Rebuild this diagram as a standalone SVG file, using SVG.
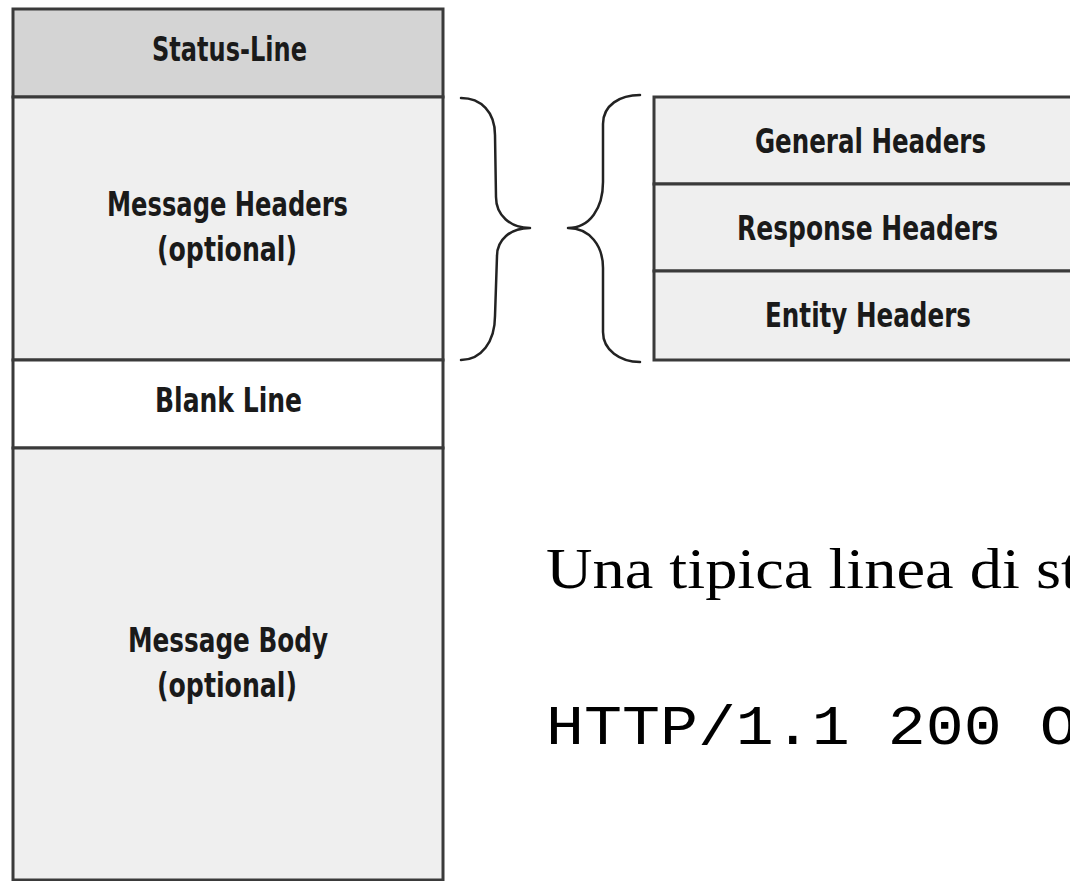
<svg xmlns="http://www.w3.org/2000/svg" width="1070" height="881" viewBox="0 0 1070 881">
<style>
.box{stroke:#3a3a3a;stroke-width:3}
.hdr{fill:#d4d4d4}
.lt{fill:#efefef}
.wh{fill:#ffffff}
.lbl{font-family:"DejaVu Sans Condensed","Liberation Sans Narrow","Liberation Sans",sans-serif;font-weight:bold;font-size:34px;fill:#1a1a1a;text-anchor:middle}
.brace{fill:none;stroke:#222;stroke-width:2.5;stroke-linejoin:round;stroke-linecap:round}
.serif{font-family:"Liberation Serif","Times New Roman",serif;font-size:57px;fill:#000}
.mono{font-family:"Liberation Mono","Courier New",monospace;font-size:56px;fill:#000}
</style>
<rect width="1070" height="881" fill="#ffffff"/>
<g id="status-line">
<rect class="box hdr" x="13" y="9" width="430" height="88"/>
<text class="lbl" x="229.5" y="61" textLength="155" lengthAdjust="spacingAndGlyphs">Status-Line</text>
</g>
<g id="message-headers">
<rect class="box lt" x="13" y="97" width="430" height="263"/>
<text class="lbl" x="227.5" y="216" textLength="241" lengthAdjust="spacingAndGlyphs">Message Headers</text>
<text class="lbl" x="227" y="261" textLength="140" lengthAdjust="spacingAndGlyphs">(optional)</text>
</g>
<g id="blank-line">
<rect class="box wh" x="13" y="360" width="430" height="88"/>
<text class="lbl" x="228.5" y="412" textLength="147" lengthAdjust="spacingAndGlyphs">Blank Line</text>
</g>
<g id="message-body">
<rect class="box lt" x="13" y="448" width="430" height="432"/>
<text class="lbl" x="228" y="652" textLength="200" lengthAdjust="spacingAndGlyphs">Message Body</text>
<text class="lbl" x="227" y="697" textLength="140" lengthAdjust="spacingAndGlyphs">(optional)</text>
</g>
<g id="general-headers">
<rect class="box lt" x="654" y="97" width="430" height="87"/>
<text class="lbl" x="870.5" y="153" textLength="231" lengthAdjust="spacingAndGlyphs">General Headers</text>
</g>
<g id="response-headers">
<rect class="box lt" x="654" y="184" width="430" height="87"/>
<text class="lbl" x="867.5" y="240" textLength="261" lengthAdjust="spacingAndGlyphs">Response Headers</text>
</g>
<g id="entity-headers">
<rect class="box lt" x="654" y="271" width="430" height="89"/>
<text class="lbl" x="868" y="327" textLength="206" lengthAdjust="spacingAndGlyphs">Entity Headers</text>
</g>
<g id="connectors">
<path class="brace" d="M461,98 C481,98 495,112 495,135 L496,197 C496,215 510,228 530,228 C510,228 497,240 497,256 L495,316 C495,342 481,360 461,360"/>
<path class="brace" d="M640,95 C620,95 603,105 603,124 L603,182 C603,208 590,228 568,228 C590,228 603,246 603,268 L603,332 C603,350 620,362 640,362"/>
</g>
<g id="caption">
<text class="serif" transform="translate(546 588) scale(1.13 1)">Una tipica linea di st</text>
<text class="mono" transform="translate(546 744) scale(1.13 1)">HTTP/1.1 200 O</text>
</g>
</svg>
